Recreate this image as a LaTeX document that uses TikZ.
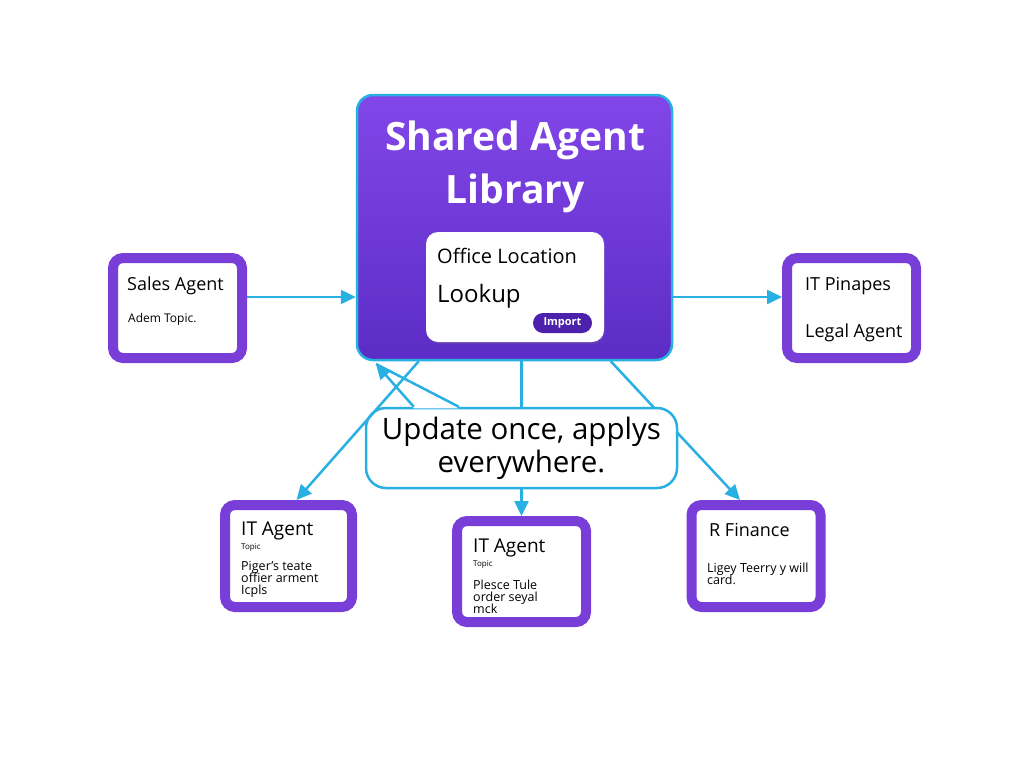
\documentclass[tikz,border=0pt]{standalone}
\usepackage{fontspec}
\setmainfont{Open Sans}
\usetikzlibrary{arrows.meta,positioning,shadows}

\definecolor{linkblue}{RGB}{40,176,226}
\definecolor{agentpurple}{RGB}{122,62,216}
\definecolor{libtop}{RGB}{130,70,232}
\definecolor{libbottom}{RGB}{92,44,198}
\definecolor{importpurple}{RGB}{76,34,172}

\tikzset{
  link/.style={draw=linkblue, line width=2.5pt},
  tip/.style={-{Triangle[length=15pt,width=14pt]}},
  lib/.style={draw=linkblue, line width=2.5pt, top color=libtop, bottom color=libbottom,
    rounded corners=16pt, minimum width=315pt, minimum height=265pt},
  card/.style={fill=white, rounded corners=12pt, minimum width=178pt, minimum height=110pt,
    drop shadow={opacity=0.2, shadow xshift=1pt, shadow yshift=-2pt}},
  agent/.style={draw=agentpurple, fill=white, line width=10pt, rounded corners=10pt, inner sep=0pt},
  note/.style={draw=linkblue, fill=white, line width=2.5pt, rounded corners=20pt, align=center,
    minimum width=311pt, minimum height=80pt, inner sep=0pt, font=\fontsize{29.5}{33}\selectfont},
  label/.style={anchor=base west, inner sep=0pt},
  head/.style={label, font=\fontsize{18}{20}\selectfont},
  tiny/.style={label, font=\fontsize{8}{9}\selectfont},
  body/.style={label, font=\fontsize{12.5}{12}\selectfont},
  pill/.style={fill=importpurple, text=white, rounded corners=10pt, minimum width=59pt,
    minimum height=20pt, inner sep=0pt, font=\bfseries\fontsize{11}{12}\selectfont}
}

\begin{document}
\begin{tikzpicture}[x=1pt,y=-1pt]

\fill[white] (0,0) rectangle (1024,768);
\useasboundingbox (0,0) rectangle (1024,768);

% Library
\node[lib] (lib) at (514.5,227.5) {};
\node[anchor=base, inner sep=0pt, text=white, font=\bfseries\fontsize{39}{44}\selectfont]
  (title1) at (515,150) {Shared Agent};
\node[anchor=base, inner sep=0pt, text=white, font=\bfseries\fontsize{39}{44}\selectfont]
  (title2) at (515,203) {Library};

\node[card] (office) at (515,287) {};
\node[label, font=\fontsize{20}{22}\selectfont] (officeT) at (437,263) {Office Location};
\node[label, font=\fontsize{24}{26}\selectfont] (lookupT) at (437,302) {Lookup};
\node[pill] (import) at (562.5,323) {Import};

% Agents
\node[agent, minimum width=129pt, minimum height=100pt] (sales) at (177.5,308) {};
\node[head] (salesT) at (127,290) {Sales Agent};
\node[label, font=\fontsize{12}{13}\selectfont] (salesS) at (128,322) {Adem Topic.};

\node[agent, minimum width=129pt, minimum height=100pt] (legal) at (851.5,308) {};
\node[head] (legalT) at (805,290) {IT Pinapes};
\node[head] (legalS) at (805,337) {Legal Agent};

\node[agent, minimum width=127pt, minimum height=102pt] (itl) at (288.5,556) {};
\node[head, font=\fontsize{19}{20}\selectfont] (itlT) at (241,535) {IT Agent};
\node[tiny] (itlS) at (241,549) {Topic};
\foreach \t [count=\i] in {Piger's teate, offier arment, Icpls}
{
  \node[body] (itlB\i) at (241,558+12*\i) {\t};
}

\node[agent, minimum width=129pt, minimum height=101pt] (itm) at (521.5,571.5) {};
\node[head, font=\fontsize{19}{20}\selectfont] (itmT) at (473,552) {IT Agent};
\node[tiny] (itmS) at (473,566) {Topic};
\foreach \t [count=\i] in {Plesce Tule, order seyal, mck}
{
  \node[body] (itmB\i) at (473,577+12*\i) {\t};
}

\node[agent, minimum width=129pt, minimum height=102pt] (fin) at (756,556) {};
\node[head] (finT) at (709,536) {R Finance};
\node[body] (finB1) at (707,572) {Ligey Teerry y will};
\node[body] (finB2) at (707,584) {card.};

% Connectors
\coordinate (salesOut) at ([yshift=11pt]sales.east);
\draw[link, tip] (salesOut) -- (salesOut -| lib.west);
\coordinate (libOut) at ([yshift=-69.5pt]lib.east);
\draw[link, tip] (libOut) -- (libOut -| legal.west);

\coordinate (libL) at ([xshift=63pt]lib.south west);
\coordinate (libR) at ([xshift=255pt]lib.south west);
\draw[link, tip] (libR) -- ([xshift=-16pt]fin.north);

% Callout
\node[note] (note) at (521.5,448) {Update once, applys\\everywhere.};
\draw[link] (itm.north |- lib.south) -- (itm.north |- note.north);
\draw[link, tip] (itm.north |- note.south) -- (itm.north);

\coordinate (tailA) at ([xshift=49pt]note.north west);
\coordinate (tailB) at ([xshift=94pt]note.north west);
\coordinate (tailTip) at (376,364);
\fill[white] ([yshift=-1.5pt]tailA) -- (tailTip) -- ([yshift=-1.5pt]tailB) -- cycle;
\draw[link] (tailB) -- (tailTip);
\draw[link, tip] (tailA) -- (tailTip);

\draw[link, tip] (libL) -- ([xshift=8pt]itl.north);

\end{tikzpicture}
\end{document}
